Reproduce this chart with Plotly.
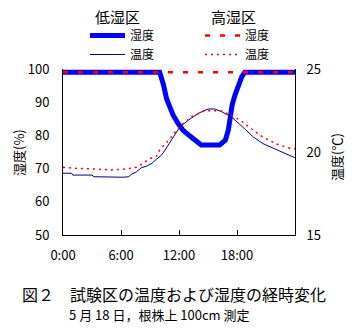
import plotly.graph_objects as go

# ---- data ----
hour_ticks = [0, 6, 12, 18]
hour_labels = ["0:00", "6:00", "12:00", "18:00"]

# 低湿区 湿度 (%)
low_hum_h = [0, 10.0, 10.4, 10.7, 11.1, 11.4, 11.9, 12.4, 13.0, 13.7, 14.3, 16.2,
             16.8, 17.1, 17.3, 17.5, 17.8, 18.1, 18.5, 18.8, 24]
low_hum = [99, 99, 95.2, 91.2, 88.2, 86.1, 83.6, 81.6, 80.1, 78.3, 77.1, 77.1,
           78.6, 81.6, 85.2, 89.2, 92.2, 94.7, 97.7, 99, 99]

# 低湿区 温度 (℃)
low_temp_h = [0, 0.9, 1.0, 3.0, 3.2, 4.5, 6.2, 6.8, 7.1, 7.6, 8.1, 8.7, 9.2, 9.7,
              10.2, 10.4, 11.2, 12.1, 13.0, 14.0, 15.0, 15.7, 16.4, 17.4, 18.5,
              19.7, 20.7, 21.75, 22.8, 23.8, 24]
low_temp = [18.72, 18.72, 18.61, 18.61, 18.51, 18.48, 18.48, 18.51, 18.66, 18.81,
            19.05, 19.16, 19.32, 19.58, 19.82, 19.98, 20.72, 21.52, 21.93, 22.33,
            22.59, 22.59, 22.43, 22.13, 21.55, 20.9, 20.5, 20.22, 19.98, 19.68, 19.65]

# 高湿区 湿度 (%)
high_hum_h = [0, 24]
high_hum = [99, 99]

# 高湿区 温度 (℃)
high_temp_h = [0, 1.1, 3.1, 4.9, 6.6, 7.6, 8.3, 8.9, 9.7, 10.0, 11.1, 12.1, 13.3,
               14.7, 15.5, 16.4, 17.3, 18.3, 19.5, 20.7, 22.1, 23.5, 24]
high_temp = [19.08, 19.02, 18.98, 18.92, 18.98, 19.08, 19.32, 19.58, 19.76, 20.12,
             20.83, 21.57, 22.13, 22.49, 22.49, 22.47, 22.23, 21.93, 21.4, 20.89,
             20.48, 20.22, 20.2]

FONT = "Noto Sans CJK JP"

fig = go.Figure()
fig.add_trace(go.Scatter(x=low_hum_h, y=low_hum, mode="lines", name="湿度",
                         line=dict(color="#0000ff", width=5), legend="legend"))
fig.add_trace(go.Scatter(x=low_temp_h, y=low_temp, mode="lines", name="温度", yaxis="y2",
                         line=dict(color="#000080", width=1), legend="legend"))
fig.add_trace(go.Scatter(x=high_hum_h, y=high_hum, mode="lines", name="湿度",
                         line=dict(color="#ff0000", width=2.5, dash="5px,10px"), legend="legend2"))
fig.add_trace(go.Scatter(x=high_temp_h, y=high_temp, mode="lines", name="温度", yaxis="y2",
                         line=dict(color="#ff0000", width=1.5, dash="2px,4px"), legend="legend2"))

legend_common = dict(
    xref="container", yref="container", xanchor="left", yanchor="top",
    bgcolor="rgba(0,0,0,0)", borderwidth=0, itemwidth=35,
    font=dict(family=FONT, size=12, color="black"), traceorder="normal",
)
fig.update_layout(
    width=353, height=331,
    margin=dict(l=63, r=58, t=69, b=96, autoexpand=False),
    paper_bgcolor="white", plot_bgcolor="white",
    font=dict(family=FONT, size=13, color="black"),
    xaxis=dict(range=[0, 24], tickvals=hour_ticks, ticktext=hour_labels,
               showline=True, linecolor="black", linewidth=1, ticks="inside",
               ticklen=5, tickcolor="black", showgrid=False, zeroline=False,
               ticklabelstandoff=8),
    yaxis=dict(range=[50, 100], dtick=10, showline=True, linecolor="black", linewidth=1,
               showgrid=False, zeroline=False, ticklabelstandoff=10),
    yaxis2=dict(range=[15, 25], dtick=5, overlaying="y", side="right", showline=True,
                linecolor="black", linewidth=1, showgrid=False, zeroline=False,
                ticklabelstandoff=8),
    legend=dict(x=85 / 353, y=1 - 21 / 331, **legend_common),
    legend2=dict(x=200 / 353, y=1 - 21 / 331, **legend_common),
    annotations=[
        dict(text="湿度(%)", xref="paper", yref="paper", textangle=-90,
             x=(18 - 63) / 232, y=(235 - 153) / 166, showarrow=False,
             xanchor="center", yanchor="middle",
             font=dict(family=FONT, size=13, color="black")),
        dict(text="温度(℃)", xref="paper", yref="paper", textangle=-90,
             x=(336 - 63) / 232, y=(235 - 157) / 166, showarrow=False,
             xanchor="center", yanchor="middle",
             font=dict(family=FONT, size=13, color="black")),
        dict(text="低湿区", xref="paper", yref="paper",
             x=(117 - 63) / 232, y=1 + (69 - 16.5) / 166, showarrow=False,
             xanchor="center", yanchor="middle",
             font=dict(family=FONT, size=15, color="black")),
        dict(text="高湿区", xref="paper", yref="paper",
             x=(233 - 63) / 232, y=1 + (69 - 16.5) / 166, showarrow=False,
             xanchor="center", yanchor="middle",
             font=dict(family=FONT, size=15, color="black")),
        dict(text="図２　試験区の温度および湿度の経時変化", xref="paper", yref="paper",
             x=0.478, y=-(294 - 235) / 166, showarrow=False, xanchor="center", yanchor="middle",
             font=dict(family=FONT, size=16, color="black")),
        dict(text="5 月 18 日，根株上 100cm 測定", xref="paper", yref="paper",
             x=0.418, y=-(314 - 235) / 166, showarrow=False, xanchor="center", yanchor="middle",
             font=dict(family=FONT, size=13, color="black")),
    ],
)
fig.write_html("out.html")
